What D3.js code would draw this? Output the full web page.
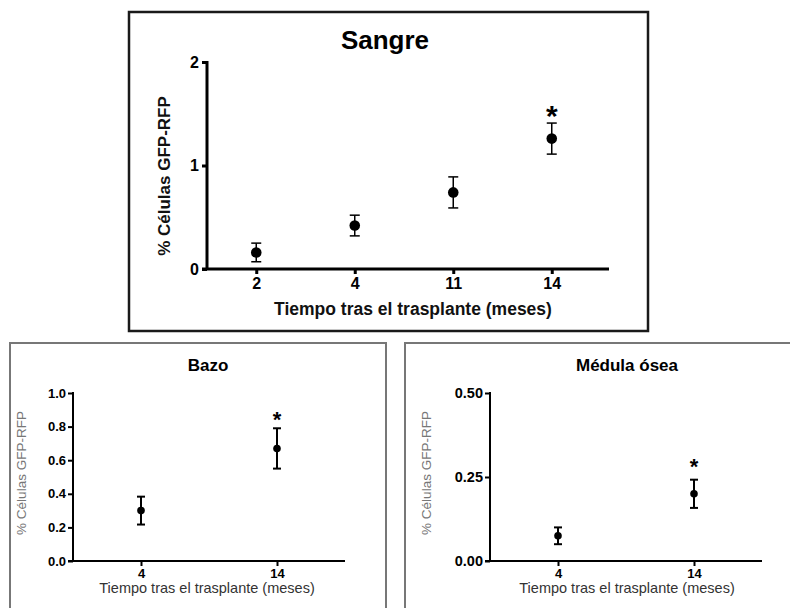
<!DOCTYPE html>
<html>
<head>
<meta charset="utf-8">
<script src="https://cdn.jsdelivr.net/npm/d3@7"></script>
<style>
  html, body { margin: 0; padding: 0; background: #fff; }
  svg { display: block; font-family: "Liberation Sans", Arial, sans-serif; }
</style>
</head>
<body>
<svg id="chart" width="790" height="608"></svg>
<script>
// Sangre (blood) time course
const sangreMonths = ["2", "4", "11", "14"];
const sangreMean = [0.16, 0.42, 0.74, 1.26];
const sangreErr = [0.09, 0.10, 0.15, 0.15];
const sangreSig = [false, false, false, true];
const sangreTicks = [0, 1, 2];

// Bazo (spleen)
const bazoMonths = ["4", "14"];
const bazoMean = [0.30, 0.67];
const bazoErr = [0.083, 0.12];
const bazoSig = [false, true];
const bazoTicks = [0, 0.2, 0.4, 0.6, 0.8, 1.0];

// Médula ósea (bone marrow)
const meduMonths = ["4", "14"];
const meduMean = [0.075, 0.20];
const meduErr = [0.025, 0.042];
const meduSig = [false, true];
const meduTicks = [0, 0.25, 0.5];

const svg = d3.select("#chart");

function panel(o) {
  const g = svg.append("g");
  // frame
  g.append("rect")
    .attr("x", o.box[0]).attr("y", o.box[1])
    .attr("width", o.box[2]).attr("height", o.box[3])
    .attr("fill", "none").attr("stroke", o.boxColor).attr("stroke-width", o.boxW);

  const x = d3.scalePoint().domain(o.cats).range([o.x0, o.x1]).padding(0.5);
  const y = d3.scaleLinear().domain([0, o.yMax]).range([o.yBot, o.yTop]);

  // y axis
  const ya = g.append("g").attr("transform", `translate(${o.x0},0)`)
    .call(d3.axisLeft(y).tickValues(o.ticks).tickFormat(d3.format(o.fmt))
      .tickSize(o.tickLen).tickSizeOuter(0).tickPadding(o.tickPad));
  ya.select(".domain").attr("stroke", "#000").attr("stroke-width", o.axisW)
    .attr("d", `M0,${o.yBot}V${o.yTop - 1}`);
  ya.selectAll(".tick line").attr("stroke", "#000").attr("stroke-width", o.axisW);
  ya.selectAll(".tick text").attr("font-size", o.yTickFont).attr("font-weight", "bold").attr("fill", "#000");

  // x axis
  const xa = g.append("g").attr("transform", `translate(0,${o.yBot})`)
    .call(d3.axisBottom(x).tickSize(o.tickLen).tickSizeOuter(0).tickPadding(o.xTickPad));
  xa.select(".domain").attr("stroke", "#000").attr("stroke-width", o.axisW)
    .attr("d", `M${o.x0 - o.tickLen},0H${o.xEnd}`);
  xa.selectAll(".tick line").attr("stroke", "#000").attr("stroke-width", o.axisW);
  xa.selectAll(".tick text").attr("font-size", o.xTickFont).attr("font-weight", "bold").attr("fill", "#000");

  const rows = o.cats.map((c, i) => ({ c, m: o.mean[i], e: o.err[i], s: o.sig[i] }));

  // error bars
  const eb = g.append("g").attr("stroke", "#000").attr("stroke-width", o.errW).attr("fill", "none");
  rows.forEach(r => {
    const cx = x(r.c);
    eb.append("line").attr("x1", cx).attr("x2", cx).attr("y1", y(r.m + r.e)).attr("y2", y(r.m - r.e));
    eb.append("line").attr("x1", cx - o.cap).attr("x2", cx + o.cap).attr("y1", y(r.m + r.e)).attr("y2", y(r.m + r.e));
    eb.append("line").attr("x1", cx - o.cap).attr("x2", cx + o.cap).attr("y1", y(r.m - r.e)).attr("y2", y(r.m - r.e));
  });

  // means
  g.selectAll("circle.pt").data(rows).join("circle")
    .attr("class", "pt")
    .attr("cx", d => x(d.c)).attr("cy", d => y(d.m)).attr("r", o.r).attr("fill", "#000");

  // significance marks
  g.selectAll("text.sig").data(rows.filter(d => d.s)).join("text")
    .attr("class", "sig")
    .attr("x", d => x(d.c)).attr("y", d => y(d.m + d.e) + o.starDy)
    .attr("text-anchor", "middle").attr("font-size", o.starFont).attr("font-weight", "bold")
    .text("*");

  // title
  g.append("text").attr("x", o.titleX).attr("y", o.titleY)
    .attr("text-anchor", "middle").attr("font-size", o.titleFont).attr("font-weight", "bold")
    .attr("fill", "#000").text(o.title);

  // axis titles
  g.append("text").attr("x", o.xLabX).attr("y", o.xLabY)
    .attr("text-anchor", "middle").attr("font-size", o.labFont).attr("font-weight", o.labWeight)
    .attr("fill", o.xLabColor).text("Tiempo tras el trasplante (meses)");
  g.append("text")
    .attr("transform", `translate(${o.yLabX},${o.yLabY}) rotate(-90)`)
    .attr("text-anchor", "middle").attr("font-size", o.yLabFont).attr("font-weight", o.labWeight)
    .attr("fill", o.yLabColor).text("% Células GFP-RFP");
}

panel({
  box: [129, 12, 519, 319], boxColor: "#1a1a1a", boxW: 2.5,
  cats: sangreMonths, mean: sangreMean, err: sangreErr, sig: sangreSig,
  ticks: sangreTicks, fmt: "d", yMax: 2,
  x0: 207, x1: 601, xEnd: 609, yBot: 269, yTop: 62,
  tickLen: 5, tickPad: 3, xTickPad: 4, yTickFont: 16, xTickFont: 16, axisW: 3,
  errW: 1.5, cap: 5, r: 5.3, starFont: 30, starDy: 3,
  title: "Sangre", titleX: 385, titleY: 49, titleFont: 26,
  xLabX: 413, xLabY: 315, labFont: 17.5, labWeight: "bold", xLabColor: "#111",
  yLabX: 170, yLabY: 176, yLabFont: 17, yLabColor: "#111"
});

panel({
  box: [10, 343, 376, 290], boxColor: "#777", boxW: 2,
  cats: bazoMonths, mean: bazoMean, err: bazoErr, sig: bazoSig,
  ticks: bazoTicks, fmt: ".1f", yMax: 1,
  x0: 73, x1: 345, xEnd: 345, yBot: 561, yTop: 393,
  tickLen: 5, tickPad: 2, xTickPad: 3, yTickFont: 13, xTickFont: 13, axisW: 2,
  errW: 2, cap: 4, r: 3.8, starFont: 22, starDy: -1,
  title: "Bazo", titleX: 208, titleY: 371, titleFont: 17,
  xLabX: 207, xLabY: 593, labFont: 14.5, labWeight: "normal", xLabColor: "#333",
  yLabX: 26, yLabY: 473, yLabFont: 13.5, yLabColor: "#777"
});

panel({
  box: [405, 343, 400, 290], boxColor: "#777", boxW: 2,
  cats: meduMonths, mean: meduMean, err: meduErr, sig: meduSig,
  ticks: meduTicks, fmt: ".2f", yMax: 0.5,
  x0: 490, x1: 762, xEnd: 762, yBot: 561, yTop: 393,
  tickLen: 5, tickPad: 2, xTickPad: 3, yTickFont: 14.5, xTickFont: 13, axisW: 2,
  errW: 2, cap: 4, r: 3.8, starFont: 22, starDy: -6,
  title: "Médula ósea", titleX: 627, titleY: 371, titleFont: 17,
  xLabX: 627, xLabY: 593, labFont: 14.5, labWeight: "normal", xLabColor: "#333",
  yLabX: 431, yLabY: 473, yLabFont: 13.5, yLabColor: "#777"
});
</script>
</body>
</html>
